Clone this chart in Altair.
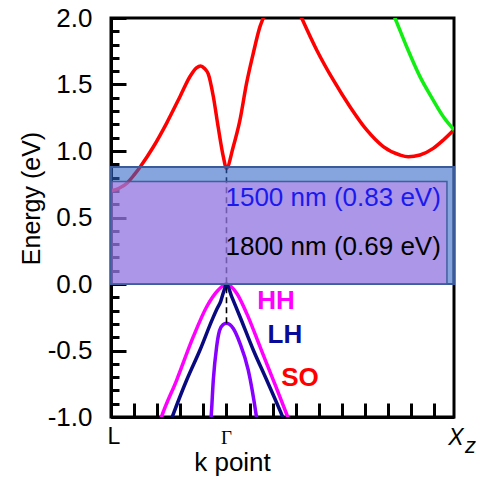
import altair as alt
import pandas as pd

# k axis: L = -0.5, Gamma = 0, X_z = 0.985
K_MIN, K_MAX = -0.5, 0.985
E_MIN, E_MAX = -1.0, 2.0

# conduction bands
c1_k = [-0.5, -0.465, -0.43, -0.40, -0.374, -0.317, -0.259, -0.201, -0.158, -0.13, -0.112, -0.095,
        -0.079, -0.057, -0.036, -0.014, 0.0, 0.029, 0.058, 0.087, 0.116, 0.145, 0.159, 0.17]
c1_e = [0.70, 0.72, 0.76, 0.82, 0.88, 1.03, 1.21, 1.41, 1.56, 1.625, 1.64, 1.62,
        1.58, 1.41, 1.18, 0.96, 0.87, 1.03, 1.23, 1.51, 1.735, 1.935, 2.0, 2.05]
c2_k = [0.31, 0.3255, 0.3905, 0.4623, 0.5346, 0.607, 0.6788, 0.751, 0.787, 0.8377, 0.895, 0.939, 0.985]
c2_e = [2.06, 2.0, 1.76, 1.534, 1.333, 1.158, 1.033, 0.97, 0.957, 0.97, 1.02, 1.083, 1.16]
c3_k = [0.715, 0.7294, 0.780, 0.8377, 0.895, 0.939, 0.985]
c3_e = [2.06, 2.0, 1.784, 1.559, 1.383, 1.258, 1.16]

# valence bands
hh_k = [-0.30, -0.2835, -0.2156, -0.1437, -0.0857, -0.0355, 0.0, 0.0442, 0.0874, 0.145, 0.2026, 0.2675, 0.285]
hh_e = [-1.10, -1.01, -0.722, -0.396, -0.171, -0.045, 0.0, -0.07, -0.221, -0.471, -0.722, -1.01, -1.09]
lh_k = [-0.25, -0.2372, -0.1723, -0.1147, -0.06, -0.042, -0.025, -0.01, 0.0, 0.0225, 0.0584, 0.116, 0.174, 0.2459, 0.26]
lh_e = [-1.07, -1.01, -0.722, -0.496, -0.26, -0.19, -0.13, -0.045, 0.0, -0.095, -0.246, -0.496, -0.722, -1.01, -1.07]
so_k = [-0.07, -0.0671, -0.0571, -0.0426, -0.03, -0.015, 0.0, 0.015, 0.0294, 0.0584, 0.0943, 0.1307, 0.134]
so_e = [-1.05, -1.01, -0.722, -0.471, -0.35, -0.305, -0.295, -0.305, -0.335, -0.446, -0.647, -1.01, -1.05]

band_names = ["c1", "c2", "c3", "hh", "lh", "so"]
band_colors = ["#ff0000", "#ff0000", "#11ee11", "#ff00ff", "#0a0a80", "#8800ff"]

# band-gap boxes (energy ranges)
box_outer_k = [-0.5, 0.985]
box_outer_e = [0.0, 0.88]
box_inner_k = [-0.5, 0.9545]
box_inner_e = [0.0, 0.77]
gamma_dash_e = [-0.295, 0.88]

box_text = ["1500 nm (0.83 eV)", "1800 nm (0.69 eV)"]
box_text_e = [0.647, 0.278]
box_text_color = ["#1a1aee", "#000000"]

lbl_text = ["HH", "LH", "SO"]
lbl_k = [0.214, 0.253, 0.318]
lbl_e = [-0.128, -0.383, -0.707]
lbl_color = ["#ff00ff", "#0a0a99", "#ff0000"]

kpt_names = ["L", "Γ"]
kpt_pos = [K_MIN, 0.0]

x_ticks = [round(-0.5 + 0.1 * i, 2) for i in range(15)]
y_major = [-1.0, -0.5, 0.0, 0.5, 1.0, 1.5, 2.0]
y_minor = [round(-1.0 + 0.1 * i, 2) for i in range(31)]

W, H = 343, 399
FONT = "Liberation Sans"

rows = []
for name, ks, es in [("c1", c1_k, c1_e), ("c2", c2_k, c2_e), ("c3", c3_k, c3_e),
                     ("hh", hh_k, hh_e), ("lh", lh_k, lh_e), ("so", so_k, so_e)]:
    for k, e in zip(ks, es):
        rows.append({"k": k, "E": e, "band": name})
bands = pd.DataFrame(rows)

xs = alt.Scale(domain=[K_MIN, K_MAX], nice=False, zero=False)
ys = alt.Scale(domain=[E_MIN, E_MAX], nice=False, zero=False)

x_main = alt.Axis(
    orient="bottom", values=[K_MIN], labels=False,
    ticks=False, tickSize=0, domain=True, domainWidth=3, domainColor="black",
    title="k point", titleFont=FONT, titleFontSize=26, titleFontWeight="normal", titleColor="black",
    titleX=121, titleY=53, titleBaseline="alphabetic", titleAlign="center", grid=False,
)
y_main = alt.Axis(
    orient="left", values=y_major,
    labelExpr="(datum.value < 0 ? '-' : '') + format(abs(datum.value), '.1f')",
    ticks=False, tickSize=0, domain=True, domainWidth=3, domainColor="black",
    labelFont=FONT, labelFontSize=26, labelPadding=19, labelColor="black",
    title="Energy (eV)", titleFont=FONT, titleFontSize=25, titleFontWeight="normal", titleColor="black",
    titleX=-72, titleY=180, titleAngle=270, titleBaseline="alphabetic", titleAlign="center", grid=False,
)

lines = alt.Chart(bands).mark_line(strokeWidth=3.5, interpolate="monotone", clip=True).encode(
    x=alt.X("k:Q", scale=xs, axis=x_main),
    y=alt.Y("E:Q", scale=ys, axis=y_main),
    color=alt.Color("band:N", scale=alt.Scale(domain=band_names, range=band_colors), legend=None),
    detail="band:N",
)

dash = alt.Chart(pd.DataFrame({"k": [0.0], "e0": [gamma_dash_e[0]], "e1": [gamma_dash_e[1]]})).mark_rule(
    color="black", strokeWidth=1.6, strokeDash=[6, 4]
).encode(
    x=alt.X("k:Q", scale=xs, axis=None),
    y=alt.Y("e0:Q", scale=ys, axis=None),
    y2="e1:Q",
)

outer = alt.Chart(pd.DataFrame({"k0": [box_outer_k[0]], "k1": [box_outer_k[1]],
                                "e0": [box_outer_e[0]], "e1": [box_outer_e[1]]})).mark_rect(
    fill="#2f62c4", fillOpacity=0.58, stroke="#3a5a9a", strokeWidth=2
).encode(
    x=alt.X("k0:Q", scale=xs, axis=None), x2="k1:Q",
    y=alt.Y("e0:Q", scale=ys, axis=None), y2="e1:Q",
)
inner = alt.Chart(pd.DataFrame({"k0": [box_inner_k[0]], "k1": [box_inner_k[1]],
                                "e0": [box_inner_e[0]], "e1": [box_inner_e[1]]})).mark_rect(
    fill="#dc86f7", fillOpacity=0.45, stroke="#3f5f9f", strokeWidth=1.5
).encode(
    x=alt.X("k0:Q", scale=xs, axis=None), x2="k1:Q",
    y=alt.Y("e0:Q", scale=ys, axis=None), y2="e1:Q",
)

btext = alt.Chart(pd.DataFrame({"k": [0.0, 0.0], "E": box_text_e, "t": box_text, "c": box_text_color})).mark_text(
    align="left", baseline="middle", font=FONT, fontSize=26, dx=-1
).encode(
    x=alt.X("k:Q", scale=xs, axis=None),
    y=alt.Y("E:Q", scale=ys, axis=None),
    text="t:N",
    color=alt.Color("c:N", scale=None),
)

labels = alt.Chart(pd.DataFrame({"k": lbl_k, "E": lbl_e, "t": lbl_text, "c": lbl_color})).mark_text(
    align="center", baseline="middle", font=FONT, fontSize=26, fontWeight="bold"
).encode(
    x=alt.X("k:Q", scale=xs, axis=None),
    y=alt.Y("E:Q", scale=ys, axis=None),
    text="t:N",
    color=alt.Color("c:N", scale=None),
)

xz_df = pd.DataFrame({"k": [K_MAX], "E": [E_MIN]})
l_lab = alt.Chart(pd.DataFrame({"k": [kpt_pos[0]], "E": [E_MIN], "t": [kpt_names[0]]})).mark_text(
    align="center", baseline="alphabetic", font=FONT, fontSize=23, dx=3, dy=27, color="black"
).encode(x=alt.X("k:Q", scale=xs, axis=None), y=alt.Y("E:Q", scale=ys, axis=None), text="t:N")
g_lab = alt.Chart(pd.DataFrame({"k": [kpt_pos[1]], "E": [E_MIN], "t": [kpt_names[1]]})).mark_text(
    align="center", baseline="alphabetic", font="Liberation Serif", fontSize=19, dy=27, color="black"
).encode(x=alt.X("k:Q", scale=xs, axis=None), y=alt.Y("E:Q", scale=ys, axis=None), text="t:N")
x_lab = alt.Chart(xz_df).mark_text(
    text="X", align="center", baseline="alphabetic", font=FONT, fontSize=23, fontStyle="italic",
    dx=2, dy=28, color="black"
).encode(x=alt.X("k:Q", scale=xs, axis=None), y=alt.Y("E:Q", scale=ys, axis=None))
z_lab = alt.Chart(xz_df).mark_text(
    text="z", align="left", baseline="alphabetic", font=FONT, fontSize=22, fontStyle="italic",
    dx=11, dy=36, color="black"
).encode(x=alt.X("k:Q", scale=xs, axis=None), y=alt.Y("E:Q", scale=ys, axis=None))

# inward ticks
xt = alt.Chart(pd.DataFrame({"k": x_ticks})).mark_point(opacity=0).encode(
    x=alt.X("k:Q", scale=xs, axis=alt.Axis(orient="top", offset=-H, values=x_ticks, labels=False,
                                             domain=False, tickSize=14, tickWidth=3, tickColor="black",
                                             title=None, grid=False))
)
ytM = alt.Chart(pd.DataFrame({"E": y_major})).mark_point(opacity=0).encode(
    y=alt.Y("E:Q", scale=ys, axis=alt.Axis(orient="right", offset=-W, values=y_major, labels=False,
                                             domain=False, tickSize=15, tickWidth=3, tickColor="black",
                                             title=None, grid=False))
)
ytm = alt.Chart(pd.DataFrame({"E": y_minor})).mark_point(opacity=0).encode(
    y=alt.Y("E:Q", scale=ys, axis=alt.Axis(orient="right", offset=-W, values=y_minor, labels=False,
                                             domain=False, tickSize=8, tickWidth=3, tickColor="black",
                                             title=None, grid=False))
)

chart = alt.layer(
    lines, xt, ytM, ytm, dash, outer, inner, btext, labels, l_lab, g_lab, x_lab, z_lab
).resolve_axis(x="independent", y="independent").properties(
    width=W, height=H,
    autosize=alt.AutoSizeParams(type="none"),
    padding={"left": 111, "top": 18, "right": 34, "bottom": 63},
    background="white",
).configure_view(stroke="black", strokeWidth=3).configure_axis(grid=False)

chart.save("out.html", embed_options={"renderer": "svg", "actions": False})
